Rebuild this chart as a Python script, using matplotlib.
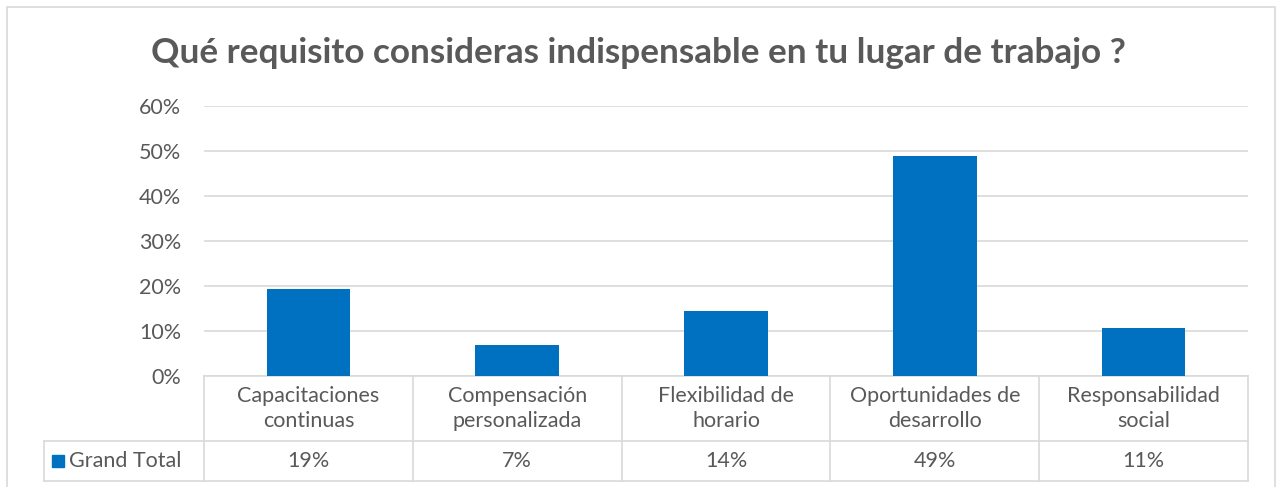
import matplotlib.pyplot as plt
from matplotlib.patches import Rectangle

# data
categories = ['Capacitaciones\ncontinuas', 'Compensación\npersonalizada',
              'Flexibilidad de\nhorario', 'Oportunidades de\ndesarrollo',
              'Responsabilidad\nsocial']
values = [0.194, 0.069, 0.144, 0.488, 0.107]
value_labels = ['19%', '7%', '14%', '49%', '11%']
y_ticks = [0, 0.1, 0.2, 0.3, 0.4, 0.5, 0.6]
series_name = 'Grand Total'

W, H = 1276, 487
blue = '#0070C0'
grid = '#D9D9D9'
txt = '#595959'
fs = 15.5
plt.rcParams['font.family'] = ['Lato', 'DejaVu Sans']

fig = plt.figure(figsize=(W / 100, H / 100), dpi=100)

def fx(px):
    return px / W

def fy(py):
    return 1 - py / H

# plot area
left, right, top, bottom = 204, 1248, 106, 376
ax = fig.add_axes([fx(left), fy(bottom), fx(right) - fx(left), fy(top) - fy(bottom)])
x = list(range(len(categories)))
ax.bar(x, values, width=0.4, color=blue, zorder=3)
ax.set_xlim(-0.5, len(categories) - 0.5)
ax.set_ylim(0, 0.6)
ax.set_yticks(y_ticks)
ax.set_yticklabels([f'{int(round(t * 100))}%' for t in y_ticks], color=txt, fontsize=fs)
ax.tick_params(axis='y', length=0, pad=16.5)
ax.set_xticks([])
ax.grid(axis='y', color=grid, linewidth=1.2, zorder=0)
for s in ['top', 'right', 'left']:
    ax.spines[s].set_visible(False)
ax.spines['bottom'].set_color(grid)
ax.spines['bottom'].set_linewidth(1.2)

# title
fig.text(0.5, fy(53), 'Qué requisito consideras indispensable en tu lugar de trabajo ?',
         ha='center', va='center', fontsize=25.3, fontweight='bold', color=txt)

# data table below the plot
cat_w = (right - left) / len(categories)
row1, row2 = 441, 481
lw = 1.2
fig.add_artist(plt.Line2D([fx(44), fx(right)], [fy(row1), fy(row1)], color=grid, lw=lw))
fig.add_artist(plt.Line2D([fx(44), fx(right)], [fy(row2), fy(row2)], color=grid, lw=lw))
fig.add_artist(plt.Line2D([fx(44), fx(44)], [fy(row1), fy(row2)], color=grid, lw=lw))
for i in range(len(categories) + 1):
    xx = left + i * cat_w
    fig.add_artist(plt.Line2D([fx(xx), fx(xx)], [fy(bottom), fy(row2)], color=grid, lw=lw))

for i, (c, v) in enumerate(zip(categories, value_labels)):
    cx = left + (i + 0.5) * cat_w
    fig.text(fx(cx), fy((bottom + row1) / 2), c, ha='center', va='center',
             fontsize=fs, color=txt, linespacing=1.35)
    fig.text(fx(cx), fy((row1 + row2) / 2), v, ha='center', va='center',
             fontsize=fs, color=txt)

# legend key
fig.add_artist(Rectangle((fx(52), fy(467)), fx(12), 12 / H, color=blue))
fig.text(fx(69), fy(461), series_name, ha='left', va='center', fontsize=fs, color=txt)

# chart border
fig.add_artist(Rectangle((fx(7), fy(490)), fx(1268), 483 / H, fill=False,
                         edgecolor=grid, lw=1.2))

fig.savefig('out.png', dpi=100)
